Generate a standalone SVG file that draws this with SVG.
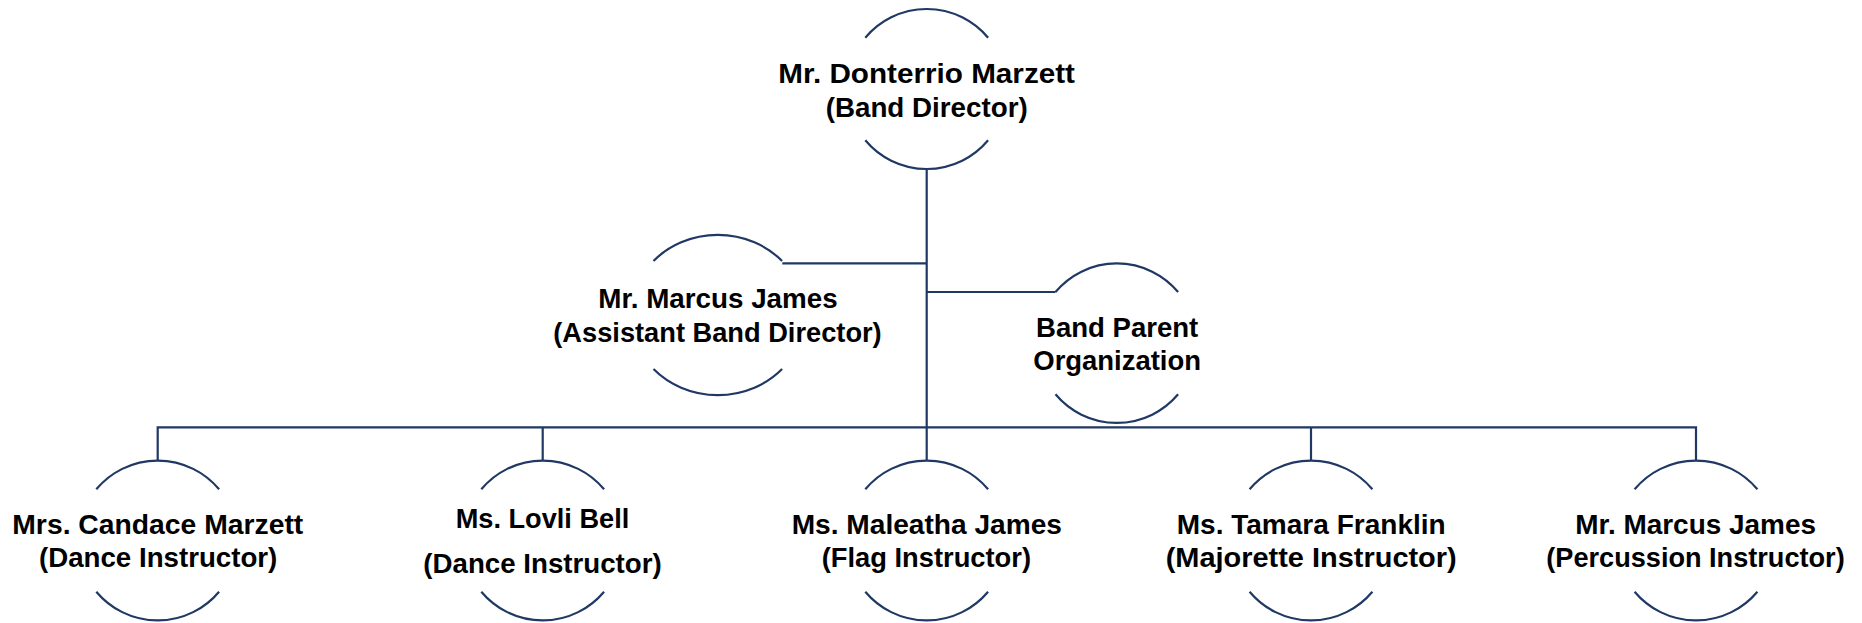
<svg xmlns="http://www.w3.org/2000/svg" width="1862" height="623" viewBox="0 0 1862 623">
<style>
.ln{fill:none;stroke:#1f3864;stroke-width:2.2;}
.t{font-family:"Liberation Sans",Arial,sans-serif;font-weight:bold;font-size:28px;fill:#000;}
</style>
<rect width="1862" height="623" fill="#fff"/>
<g id="connectors" class="ln">
<path d="M926.7 168.3 V427.3"/>
<path d="M782.3 263.3 H926.7"/>
<path d="M926.7 292 H1055.5"/>
<path d="M157.7 460.7 V427.3 H1696 V460.7"/>
<path d="M542.7 427.3 V460.7"/>
<path d="M926.7 427.3 V460.7"/>
<path d="M1311 427.3 V460.7"/>
</g>
<g id="node-director">
<path class="ln" d="M865.3 37.7 A80 80 0 0 1 988.1 37.7"/>
<path class="ln" d="M865.3 140.3 A80 80 0 0 0 988.1 140.3"/>
<text class="t" x="778.3" y="82.7" textLength="296.7" lengthAdjust="spacingAndGlyphs">Mr. Donterrio Marzett</text>
<text class="t" x="825.7" y="116.7" textLength="202" lengthAdjust="spacingAndGlyphs">(Band Director)</text>
</g>
<g id="node-assistant">
<path class="ln" d="M653.5 261 A87 80 0 0 1 782.1 261"/>
<path class="ln" d="M653.5 369 A87 80 0 0 0 782.1 369"/>
<text class="t" x="598.3" y="308.3" textLength="239.4" lengthAdjust="spacingAndGlyphs">Mr. Marcus James</text>
<text class="t" x="553.3" y="341.7" textLength="328.4" lengthAdjust="spacingAndGlyphs">(Assistant Band Director)</text>
</g>
<g id="node-parents">
<path class="ln" d="M1055.5 292 A80 80 0 0 1 1178.1 292"/>
<path class="ln" d="M1055.5 394.3 A80 80 0 0 0 1178.1 394.3"/>
<text class="t" x="1036" y="336.7" textLength="162.3" lengthAdjust="spacingAndGlyphs">Band Parent</text>
<text class="t" x="1033.3" y="370" textLength="167.7" lengthAdjust="spacingAndGlyphs">Organization</text>
</g>
<g id="node-candace">
<path class="ln" d="M96.3 489.3 A80 80 0 0 1 219.1 489.3"/>
<path class="ln" d="M96.3 591.7 A80 80 0 0 0 219.1 591.7"/>
<text class="t" x="12.3" y="534" textLength="291" lengthAdjust="spacingAndGlyphs">Mrs. Candace Marzett</text>
<text class="t" x="39" y="566.7" textLength="238.3" lengthAdjust="spacingAndGlyphs">(Dance Instructor)</text>
</g>
<g id="node-lovli">
<path class="ln" d="M481.3 489.3 A80 80 0 0 1 604.1 489.3"/>
<path class="ln" d="M481.3 591.7 A80 80 0 0 0 604.1 591.7"/>
<text class="t" x="455.7" y="528.3" textLength="173.6" lengthAdjust="spacingAndGlyphs">Ms. Lovli Bell</text>
<text class="t" x="423.3" y="573.3" textLength="238.4" lengthAdjust="spacingAndGlyphs">(Dance Instructor)</text>
</g>
<g id="node-maleatha">
<path class="ln" d="M865.3 489.3 A80 80 0 0 1 988.1 489.3"/>
<path class="ln" d="M865.3 591.7 A80 80 0 0 0 988.1 591.7"/>
<text class="t" x="791.7" y="534" textLength="270.3" lengthAdjust="spacingAndGlyphs">Ms. Maleatha James</text>
<text class="t" x="821.7" y="566.7" textLength="209.3" lengthAdjust="spacingAndGlyphs">(Flag Instructor)</text>
</g>
<g id="node-tamara">
<path class="ln" d="M1249.6 489.3 A80 80 0 0 1 1372.4 489.3"/>
<path class="ln" d="M1249.6 591.7 A80 80 0 0 0 1372.4 591.7"/>
<text class="t" x="1176.7" y="534" textLength="269" lengthAdjust="spacingAndGlyphs">Ms. Tamara Franklin</text>
<text class="t" x="1165.7" y="566.7" textLength="291" lengthAdjust="spacingAndGlyphs">(Majorette Instructor)</text>
</g>
<g id="node-marcus-percussion">
<path class="ln" d="M1634.6 489.3 A80 80 0 0 1 1757.4 489.3"/>
<path class="ln" d="M1634.6 591.7 A80 80 0 0 0 1757.4 591.7"/>
<text class="t" x="1575.3" y="534" textLength="240.7" lengthAdjust="spacingAndGlyphs">Mr. Marcus James</text>
<text class="t" x="1546.3" y="566.7" textLength="298.4" lengthAdjust="spacingAndGlyphs">(Percussion Instructor)</text>
</g>
</svg>
